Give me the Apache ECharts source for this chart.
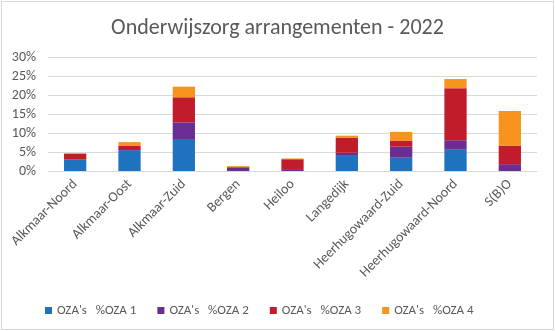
<!DOCTYPE html>
<html>
<head>
<meta charset="utf-8">
<script src="https://cdn.jsdelivr.net/npm/echarts@6/dist/echarts.min.js"></script>
<style>
  html, body { margin: 0; padding: 0; background: #fff; }
  #frame { position: absolute; left: 1px; top: 1px; width: 551px; height: 327px; border: 1px solid #d9d9d9; }
  #chart { position: absolute; left: 0; top: 0; width: 555px; height: 331px; }
</style>
</head>
<body>
<div id="frame"></div>
<div id="chart"></div>
<script>
// Schools / regions on the category axis
const categories = ['Alkmaar-Noord', 'Alkmaar-Oost', 'Alkmaar-Zuid', 'Bergen', 'Heiloo',
  'Langedijk', 'Heerhugowaard-Zuid', 'Heerhugowaard-Noord', 'S(B)O'];

// Share of pupils (%) per arrangement level
const oza1 = [3.1, 5.5, 8.2, 0, 0, 4.2, 3.5, 5.6, 0];
const oza2 = [0, 0, 4.6, 0.9, 0.5, 0.6, 2.9, 2.5, 1.8];
const oza3 = [1.4, 1.1, 6.6, 0.2, 2.6, 4.0, 1.6, 13.7, 4.9];
const oza4 = [0.2, 1.0, 2.8, 0.2, 0.2, 0.5, 2.3, 2.4, 9.1];

const seriesNames = ["OZA's   %OZA 1", "OZA's   %OZA 2", "OZA's   %OZA 3", "OZA's   %OZA 4"];
const colors = ['#1f72bd', '#6a2d93', '#c01c2c', '#f7941d'];

const font = 'Carlito, "Liberation Sans", Arial, sans-serif';
const chart = echarts.init(document.getElementById('chart'), null, { renderer: 'canvas' });

const seriesData = [oza1, oza2, oza3, oza4];
chart.setOption({
  animation: false,
  color: colors,
  title: {
    text: 'Onderwijszorg arrangementen - 2022',
    left: 'center',
    top: 12,
    textStyle: { fontFamily: font, fontSize: 22, fontWeight: 'normal', color: '#595959' }
  },
  legend: {
    bottom: 9,
    left: 40,
    itemWidth: 7,
    itemHeight: 7,
    itemGap: 21,
    icon: 'rect',
    textStyle: { fontFamily: font, fontSize: 13, color: '#595959' },
    data: seriesNames
  },
  grid: { left: 48, right: 18, top: 57, bottom: 160, containLabel: false },
  xAxis: {
    type: 'category',
    data: categories,
    axisTick: { show: false },
    axisLine: { lineStyle: { color: '#d9d9d9', width: 1 } },
    axisLabel: { rotate: 45, interval: 0, margin: 11, fontFamily: font, fontSize: 14, color: '#595959' }
  },
  yAxis: {
    type: 'value',
    min: 0,
    max: 30,
    interval: 5,
    axisLine: { show: false },
    axisTick: { show: false },
    splitLine: { lineStyle: { color: '#d9d9d9', width: 1 } },
    axisLabel: { formatter: '{value}%', margin: 12, fontFamily: font, fontSize: 14, color: '#595959' }
  },
  series: seriesData.map((d, i) => ({
    name: seriesNames[i],
    type: 'bar',
    stack: 'oza',
    barWidth: '41%',
    data: d,
    itemStyle: { color: colors[i] }
  }))
});
</script>
</body>
</html>
